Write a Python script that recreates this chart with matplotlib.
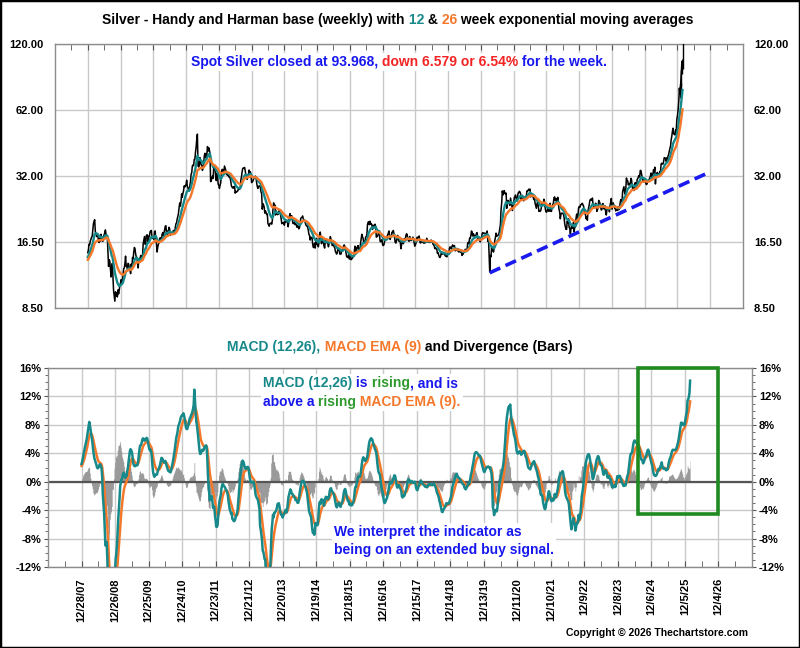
import numpy as np
import pandas as pd
import matplotlib
matplotlib.use("Agg")
import matplotlib.pyplot as plt
import matplotlib.dates as mdates
from matplotlib.patches import Rectangle
from matplotlib.ticker import FixedLocator, MultipleLocator, NullLocator

plt.rcParams['font.family'] = ['Liberation Sans', 'DejaVu Sans']
plt.rcParams['font.weight'] = 'bold'

# ---------------- data: weekly closes (Fridays) ----------------
# 2007 is warm-up history for the averages (not displayed)
close_2007 = [12.9, 12.9, 13.2, 13.2, 13.6, 13.9, 13.8, 14.4, 13.1, 13.0, 13.2, 13.4, 13.4,
              13.6, 13.9, 13.6, 13.5, 13.6, 13.2, 13.1, 13.0, 13.5, 13.2, 13.3, 13.3, 12.4,
              12.9, 13.1, 13.3, 12.9, 12.9, 12.6, 11.8, 11.8, 12.1, 12.5, 12.6, 13.0, 13.4,
              13.5, 13.6, 13.7, 14.3, 14.8, 15.1, 14.4, 14.9, 14.2, 14.3, 13.8, 14.0, 14.8]
close_2008 = [15.2, 16.1, 16.0, 16.6, 16.9, 17.3, 17.4, 18.6, 19.8, 20.3, 20.6, 18.3, 18.0,
              17.4, 17.9, 17.7, 16.6, 16.4, 17.1, 16.6, 17.8, 16.7, 17.3, 16.6, 17.4, 17.7,
              18.1, 18.6, 17.8, 17.4, 17.4, 15.1, 12.9, 13.8, 13.6, 12.5, 11.6, 12.6, 13.3,
              11.6, 10.1, 9.6, 9.1, 10.0, 9.9, 9.6, 9.5, 10.2, 9.8, 10.2, 10.7, 10.9]
close_2009 = [11.3, 11.0, 11.2, 11.9, 12.6, 12.7, 13.3, 14.3, 12.9, 13.0, 12.6, 13.3, 13.2,
              12.5, 12.5, 12.0, 13.2, 12.6, 14.1, 13.9, 14.9, 15.6, 15.4, 14.6, 14.2, 14.1,
              13.3, 12.7, 13.7, 13.9, 14.0, 14.4, 14.2, 14.2, 14.5, 16.2, 16.8, 17.4, 16.1,
              16.2, 17.6, 17.7, 17.6, 16.4, 17.3, 17.6, 18.3, 18.4, 18.5, 17.1, 17.1, 17.3]
close_2010 = [16.9, 18.3, 18.4, 17.0, 16.2, 14.9, 15.6, 16.1, 16.3, 17.0, 17.2, 16.8, 16.9,
              17.8, 18.1, 17.6, 18.1, 18.6, 19.3, 19.4, 17.9, 18.4, 17.7, 18.4, 19.1, 18.8,
              17.6, 18.0, 17.9, 17.8, 18.0, 18.5, 18.0, 18.2, 19.1, 19.8, 20.0, 20.8, 21.3,
              22.0, 23.3, 24.4, 23.6, 24.7, 26.7, 25.8, 26.8, 27.5, 28.9, 28.6, 29.0, 29.3, 30.6]
close_2011 = [28.8, 28.4, 27.6, 27.5, 29.0, 30.1, 32.5, 33.0, 35.3, 35.7, 35.4, 37.7, 37.8,
              40.6, 42.7, 46.2, 48.6, 35.3, 35.0, 35.4, 38.4, 36.6, 35.8, 35.4, 33.8, 34.6,
              36.4, 39.1, 40.1, 39.9, 38.3, 39.4, 42.9, 41.0, 42.4, 41.5, 40.0, 30.2, 30.4,
              31.3, 31.9, 31.2, 35.3, 34.2, 34.5, 31.9, 30.5, 32.8, 32.0, 29.4, 29.1, 28.2]
close_2012 = [29.1, 29.8, 32.5, 34.1, 34.1, 33.5, 33.2, 35.3, 34.6, 33.9, 32.6, 32.3, 32.4,
              32.1, 31.6, 31.8, 31.2, 30.3, 28.9, 28.6, 28.3, 28.6, 28.3, 28.8, 26.9, 27.4,
              27.2, 27.3, 27.5, 28.0, 27.9, 28.0, 28.3, 30.7, 31.7, 33.3, 34.5, 34.6, 34.6,
              34.8, 33.5, 32.3, 31.7, 30.9, 32.3, 32.3, 33.9, 33.0, 33.3, 32.3, 29.9, 30.1]
close_2013 = [30.3, 30.8, 31.6, 31.3, 31.9, 31.5, 29.9, 28.8, 28.2, 28.8, 28.9, 28.9, 28.4,
              27.2, 26.8, 22.9, 24.2, 23.9, 23.4, 22.0, 22.5, 22.2, 21.7, 21.8, 19.8, 19.6,
              19.3, 19.8, 19.9, 19.9, 19.7, 20.5, 23.0, 24.4, 23.6, 23.9, 21.6, 22.5, 21.8,
              21.7, 21.7, 22.0, 22.6, 21.9, 21.7, 20.7, 19.8, 19.9, 19.9, 20.1, 19.5, 20.2]
close_2014 = [20.1, 20.3, 20.3, 20.1, 19.2, 20.0, 21.3, 21.9, 21.2, 21.4, 21.4, 20.3, 19.8,
              20.0, 20.1, 19.6, 19.7, 19.6, 19.1, 19.4, 19.3, 18.8, 19.0, 19.6, 20.9, 21.0,
              21.1, 21.4, 20.8, 20.6, 20.4, 20.1, 19.6, 19.4, 19.4, 19.1, 18.6, 17.8, 17.6,
              16.8, 17.3, 17.2, 17.2, 16.1, 15.6, 15.6, 16.3, 15.5, 16.4, 17.1, 16.1, 16.0]
close_2015 = [15.7, 16.4, 17.8, 18.2, 17.2, 16.2, 17.3, 16.4, 16.6, 15.8, 15.5, 16.6, 16.9,
              16.8, 16.3, 16.2, 15.7, 16.2, 16.5, 17.4, 17.0, 16.7, 15.9, 16.0, 16.0, 15.7,
              15.6, 15.0, 14.8, 14.6, 14.8, 15.4, 15.2, 15.4, 14.6, 14.6, 14.6, 15.2, 15.0,
              15.2, 15.8, 16.0, 15.8, 15.5, 14.7, 14.2, 14.2, 14.1, 14.5, 13.9, 13.9, 14.4]
close_2016 = [13.8, 13.9, 14.0, 14.2, 14.3, 14.9, 15.8, 15.3, 14.7, 15.6, 15.6, 15.9, 15.2,
              15.1, 15.3, 16.3, 17.0, 17.8, 17.4, 17.1, 16.4, 16.3, 16.4, 17.3, 17.4, 17.7,
              19.6, 20.1, 20.2, 19.6, 20.3, 19.7, 19.8, 19.5, 18.7, 19.5, 19.3, 19.0, 19.7,
              19.2, 17.3, 17.4, 17.5, 17.8, 18.4, 17.9, 16.6, 16.5, 16.7, 16.9, 16.0, 15.9, 16.0]
close_2017 = [16.5, 16.8, 16.9, 16.9, 17.4, 17.7, 18.0, 18.4, 17.6, 16.9, 17.4, 17.6, 18.2,
              18.1, 18.5, 17.9, 17.2, 16.4, 16.3, 16.7, 17.4, 17.6, 16.8, 16.6, 16.6, 16.5,
              15.4, 16.0, 16.4, 16.7, 16.2, 17.0, 16.9, 17.0, 17.6, 17.9, 17.7, 17.0, 16.7,
              16.6, 17.4, 17.1, 16.7, 16.8, 16.9, 17.3, 17.0, 16.4, 15.8, 16.0, 16.3, 16.9]
close_2018 = [17.3, 17.1, 17.1, 17.5, 16.7, 16.3, 16.7, 16.5, 16.5, 16.5, 16.3, 16.6, 16.3,
              16.4, 16.6, 17.1, 16.5, 16.5, 16.7, 16.4, 16.5, 16.4, 16.8, 16.6, 16.5, 16.1,
              16.0, 15.8, 15.4, 15.5, 15.4, 15.3, 14.7, 14.8, 14.5, 14.2, 14.1, 14.3, 14.7,
              14.6, 14.6, 14.6, 14.7, 14.8, 14.4, 14.3, 14.3, 14.2, 14.6, 14.7, 14.7, 15.4]
close_2019 = [15.7, 15.6, 15.4, 15.7, 16.0, 15.8, 15.8, 15.9, 15.1, 15.1, 15.3, 15.4, 15.1,
              15.1, 14.9, 15.0, 15.0, 14.9, 14.9, 14.4, 14.6, 14.6, 15.1, 15.0, 15.3, 15.3,
              15.0, 15.2, 16.3, 16.4, 16.2, 17.1, 17.1, 17.5, 18.4, 18.2, 17.5, 17.9, 17.5,
              17.6, 17.5, 17.5, 18.0, 18.1, 16.8, 17.0, 17.0, 17.0, 16.5, 16.9, 17.2, 17.9]
close_2020 = [18.1, 18.0, 18.0, 18.0, 18.0, 17.8, 17.7, 18.4, 16.6, 17.3, 14.6, 12.2, 14.4,
              14.2, 15.6, 15.4, 15.1, 14.9, 15.5, 16.7, 17.2, 18.0, 17.5, 17.5, 17.6, 17.8,
              18.1, 18.9, 19.7, 22.8, 24.4, 27.5, 26.4, 26.8, 27.6, 26.9, 26.7, 26.9, 23.1,
              23.9, 25.0, 24.3, 24.7, 23.8, 25.6, 24.7, 23.9, 22.6, 24.2, 24.0, 25.8, 25.9]
close_2021 = [26.4, 25.5, 24.8, 25.6, 26.9, 27.0, 27.4, 27.2, 26.7, 25.2, 26.2, 26.3, 25.1,
              24.9, 25.3, 25.9, 26.0, 25.9, 27.5, 27.4, 27.7, 28.0, 27.7, 28.0, 25.9, 26.1,
              26.5, 26.1, 25.8, 25.2, 25.6, 24.3, 23.7, 23.1, 24.1, 24.7, 23.8, 22.4, 22.6,
              22.4, 22.6, 23.3, 24.4, 24.0, 24.1, 25.3, 24.7, 23.2, 22.4, 22.2, 22.4, 22.9, 23.3]
close_2022 = [22.4, 23.0, 24.3, 22.4, 22.4, 23.5, 23.9, 24.3, 25.7, 25.9, 25.0, 25.5, 24.7,
              24.8, 25.8, 24.2, 22.8, 22.3, 20.8, 21.7, 22.0, 22.0, 21.9, 21.8, 21.1, 19.8,
              19.2, 18.7, 18.7, 20.3, 19.9, 20.8, 19.1, 18.9, 17.9, 18.8, 19.5, 18.9, 19.0,
              20.1, 18.2, 19.3, 19.2, 20.9, 21.8, 21.0, 21.5, 23.1, 23.5, 23.3, 23.9, 24.0]
close_2023 = [24.0, 24.3, 23.9, 23.6, 22.4, 22.0, 21.6, 20.8, 21.2, 20.5, 22.5, 23.2, 24.0,
              25.0, 25.3, 25.2, 25.0, 25.6, 24.0, 23.5, 23.2, 23.6, 24.3, 24.1, 22.4, 22.8,
              23.1, 25.0, 24.7, 24.3, 23.6, 22.7, 22.8, 24.2, 24.2, 23.0, 23.0, 23.7, 22.3,
              21.6, 22.7, 23.3, 23.1, 23.3, 22.3, 23.8, 24.5, 25.5, 22.9, 24.0, 24.4, 23.8]
close_2024 = [23.2, 23.2, 22.5, 22.8, 22.8, 22.6, 23.5, 22.8, 23.1, 24.4, 25.2, 24.7, 24.9,
              27.4, 28.0, 28.7, 27.2, 26.6, 28.2, 31.3, 30.4, 30.4, 29.2, 29.6, 29.6, 29.1,
              31.2, 30.8, 29.1, 27.9, 28.6, 27.6, 29.0, 29.9, 28.9, 28.1, 30.9, 31.1, 31.7,
              32.1, 31.6, 33.8, 33.7, 32.5, 31.3, 30.3, 31.3, 30.1, 31.0, 30.6, 29.5, 29.3]
close_2025 = [29.7, 30.4, 30.5, 30.8, 31.3, 31.9, 32.9, 32.5, 31.1, 32.6, 34.0, 33.0, 34.9,
              29.5, 32.2, 32.6, 33.1, 32.0, 32.7, 32.3, 33.4, 33.0, 36.0, 36.3, 36.0, 36.0,
              36.9, 38.4, 38.2, 38.2, 37.0, 38.3, 37.9, 38.9, 39.7, 41.0, 42.2, 43.1, 46.0,
              47.6, 50.1, 51.6, 48.7, 48.6, 48.2, 50.7, 49.9, 56.5, 58.6, 62.0, 67.1, 77.0]
close_2026 = [72.5, 79.8, 90.0, 100.547, 93.968]

# weekly high/low of the final weeks (visible as tall bars)
recent_weeks = ['2026-01-02', '2026-01-09', '2026-01-16', '2026-01-23', '2026-01-30']
recent_high = [80.5, 81.0, 92.0, 103.5, 121.5]
recent_low = [70.0, 71.5, 79.0, 89.0, 93.0]

# trend line (blue dashed)
trend_dates = ['2020-03-20', '2026-12-04']
trend_values = [12.1, 33.3]

# highlight box (bottom panel)
box_dates = ['2024-07-12', '2026-12-04']
box_values = [-4.5, 16.0]

price_ticks = [8.5, 16.5, 32.0, 62.0, 120.0]
price_tick_labels = ['8.50', '16.50', '32.00', '62.00', '120.00']
macd_ticks = [-12, -8, -4, 0, 4, 8, 12, 16]
macd_tick_labels = ['-12%', '-8%', '-4%', '0%', '4%', '8%', '12%', '16%']
date_tick_labels = ['12/28/07', '12/26/08', '12/25/09', '12/24/10', '12/23/11', '12/21/12',
                    '12/20/13', '12/19/14', '12/18/15', '12/16/16', '12/15/17', '12/14/18',
                    '12/13/19', '12/11/20', '12/10/21', '12/9/22', '12/8/23', '12/6/24',
                    '12/5/25', '12/4/26']

TEAL = '#17898a'
ORANGE = '#f5782a'
BLUE = '#1717f0'
RED = '#f22424'
GREEN = '#2e9a2e'
GRID = '#c9c9c9'
SPINE = '#8c8c8c'

# ---------------- derived series ----------------
closes = np.array(close_2007 + close_2008 + close_2009 + close_2010 + close_2011 + close_2012 +
                  close_2013 + close_2014 + close_2015 + close_2016 + close_2017 + close_2018 +
                  close_2019 + close_2020 + close_2021 + close_2022 + close_2023 + close_2024 +
                  close_2025 + close_2026)
dates = pd.date_range('2007-01-05', periods=len(closes), freq='W-FRI')
s = pd.Series(closes, index=dates)
ema12 = s.ewm(span=12, adjust=False).mean()
ema26 = s.ewm(span=26, adjust=False).mean()
macd = (ema12 - ema26) / s * 100.0
signal = macd.ewm(span=9, adjust=False).mean()
hist = macd - signal

start = pd.Timestamp('2007-12-28')
m = dates >= start
d = dates[m]

tick_dates = pd.to_datetime(date_tick_labels, format='%m/%d/%y')
minor_dates = [tick_dates[0] - pd.Timedelta(weeks=26)] + [t + pd.Timedelta(weeks=26) for t in tick_dates]
xmin = tick_dates[0] - pd.Timedelta(weeks=52)
xmax = tick_dates[-1] + pd.Timedelta(weeks=52)

# ---------------- figure ----------------
W, H = 800, 648
fig = plt.figure(figsize=(W / 100, H / 100), dpi=100)
ax1 = fig.add_axes([55 / W, 1 - 308 / H, 688 / W, 264 / H])
ax2 = fig.add_axes([48 / W, 1 - 567 / H, 704 / W, 199 / H])

for ax in (ax1, ax2):
    ax.set_xlim(xmin, xmax)
    ax.xaxis.set_major_locator(FixedLocator(mdates.date2num(tick_dates)))
    ax.xaxis.set_minor_locator(FixedLocator(mdates.date2num(minor_dates)))
    ax.grid(True, which='major', color=GRID, lw=1.0)
    ax.set_axisbelow(True)
    for sp in ax.spines.values():
        sp.set_color(SPINE)
        sp.set_linewidth(1.0)

# top panel
ax1.set_yscale('log')
ax1.set_ylim(8.5, 120)
ax1.yaxis.set_major_locator(FixedLocator(price_ticks))
ax1.yaxis.set_minor_locator(NullLocator())
ax1.set_yticklabels(price_tick_labels)
ax1.tick_params(axis='y', which='both', length=0, labelsize=8, pad=8,
                left=True, right=True, labelleft=True, labelright=True)
ax1.tick_params(axis='x', which='both', direction='in', top=True, bottom=False,
                labelbottom=False, length=4, color='#555555')

ax1.plot(d, s[m].values, color='black', lw=1.1, zorder=3)
ax1.vlines(pd.to_datetime(recent_weeks), recent_low, recent_high, color='black', lw=1.0, zorder=3)
ax1.plot(d, ema12[m].values, color=TEAL, lw=1.7, zorder=4)
ax1.plot(d, ema26[m].values, color=ORANGE, lw=1.7, zorder=5)
ax1.plot(pd.to_datetime(trend_dates), trend_values, color='#1a1aee', lw=2.6,
         ls=(0, (3.2, 1.6)), zorder=6)

# bottom panel
ax2.set_ylim(-12, 16)
ax2.yaxis.set_major_locator(FixedLocator(macd_ticks))
ax2.yaxis.set_minor_locator(MultipleLocator(1))
ax2.set_yticklabels(macd_tick_labels)
ax2.tick_params(axis='y', which='major', direction='out', length=3, labelsize=8, pad=2,
                left=True, right=True, labelleft=True, labelright=True, color='#555555')
ax2.tick_params(axis='y', which='minor', direction='out', length=2, left=True, right=True,
                color='#555555')
ax2.set_xticklabels(date_tick_labels, rotation=90)
ax2.tick_params(axis='x', which='both', direction='in', length=4, labelsize=8, pad=8,
                bottom=True, top=False, color='#555555')

ax2.fill_between(d, 0, hist[m].values, step='mid', color='#9a9a9a', lw=0, zorder=2)
ax2.axhline(0, color='#555555', lw=1.6, zorder=2.5)
ax2.plot(d, signal[m].values, color=ORANGE, lw=1.8, zorder=3)
ax2.plot(d, macd[m].values, color=TEAL, lw=1.8, zorder=3.5)

bx0 = mdates.date2num(pd.Timestamp(box_dates[0]))
bx1 = mdates.date2num(pd.Timestamp(box_dates[1]))
ax2.add_patch(Rectangle((bx0, box_values[0]), bx1 - bx0, box_values[1] - box_values[0],
                        fill=False, ec='#1f8a1f', lw=2.6, clip_on=False, zorder=6))


# ---------------- multi-coloured text ----------------
def rainbow(ax, x, y, pieces, size=10):
    kw = dict(fontsize=size, fontweight='bold', annotation_clip=False)
    txt, col = pieces[0]
    first = ax.annotate(txt, xy=(x, y), xycoords='figure fraction', color=col,
                        ha='left', va='center', zorder=7, **kw)
    arts = [first]
    prev = first
    for txt, col in pieces[1:]:
        prev = ax.annotate(txt, xy=(1, 0), xycoords=prev, color=col, ha='left',
                           va='bottom', zorder=7, **kw)
        arts.append(prev)
    return arts


def center(arts, cx):
    fig.canvas.draw()
    r = fig.canvas.get_renderer()
    x0 = arts[0].get_window_extent(r).x0
    x1 = arts[-1].get_window_extent(r).x1
    shift = (cx * W - (x0 + x1) / 2) / W
    fx, fy = arts[0].get_position()
    arts[0].set_position((fx + shift, fy))


def white_back(ax, groups, pad=2):
    fig.canvas.draw()
    r = fig.canvas.get_renderer()
    for arts in groups:
        bbs = [a.get_window_extent(r) for a in arts]
        x0 = min(b.x0 for b in bbs) - pad
        x1 = max(b.x1 for b in bbs) + pad
        y0 = min(b.y0 for b in bbs) - pad
        y1 = max(b.y1 for b in bbs) + pad
        ax.add_patch(Rectangle((x0 / W, y0 / H), (x1 - x0) / W, (y1 - y0) / H,
                               transform=fig.transFigure, fc='white', ec='none',
                               clip_on=False, zorder=6.5))


last = close_2026[-1]
prev_close = close_2026[-2]
chg = prev_close - last
pct = chg / prev_close * 100

title = rainbow(ax1, 0.1, 1 - 20 / H,
                [("Silver - Handy and Harman base (weekly) with", 'black'), (" 12", TEAL),
                 (" &", 'black'), (" 26", ORANGE), (" week exponential moving averages", 'black')])
note = rainbow(ax1, 0.2, 1 - 62 / H,
               [(f"Spot Silver closed at {last:.3f},", BLUE),
                (f" down {chg:.3f} or {pct:.2f}%", RED), (" for the week.", BLUE)])
sub = rainbow(ax2, 0.3, 1 - 347 / H,
              [("MACD (12,26),", TEAL), (" MACD EMA (9)", ORANGE),
               (" and Divergence (Bars)", 'black')])
l1 = rainbow(ax2, 263 / W, 1 - 383 / H,
             [("MACD (12,26)", TEAL), (" is", BLUE), (" rising", GREEN), (", and is", BLUE)])
l2 = rainbow(ax2, 263 / W, 1 - 402 / H,
             [("above a", BLUE), (" rising", GREEN), (" MACD EMA (9).", ORANGE)])
l3 = rainbow(ax2, 334 / W, 1 - 532 / H, [("We interpret the indicator as", BLUE)])
l4 = rainbow(ax2, 334 / W, 1 - 550 / H, [("being on an extended buy signal.", BLUE)])

center(title, 398 / W)
center(note, 399 / W)
center(sub, 400 / W)

white_back(ax1, [note])
white_back(ax2, [l1 + l2, l3 + l4])

fig.text(748 / W, 1 - 633 / H, "Copyright \u00a9 2026 Thechartstore.com", ha='right', va='center',
         fontsize=7.5, fontweight='bold', color='black')

fig.patches.append(Rectangle((0, 0), 1, 1, transform=fig.transFigure, fill=False,
                             ec='black', lw=2.5, zorder=10))

fig.savefig('out.png', dpi=100)
